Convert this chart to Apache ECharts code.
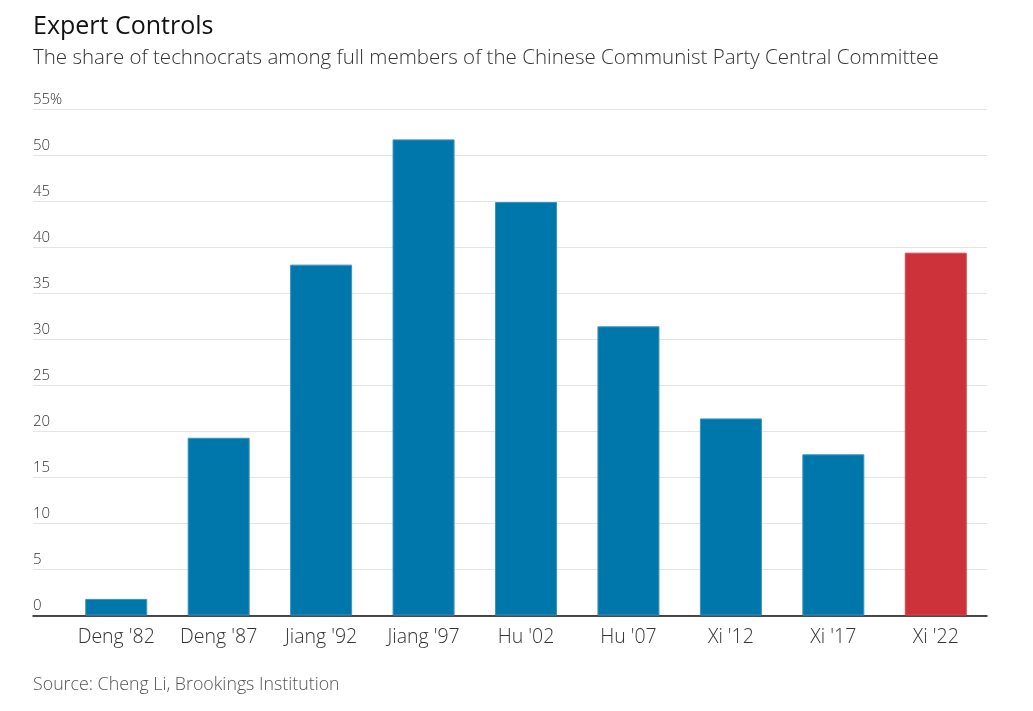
<!DOCTYPE html>
<html>
<head>
<meta charset="utf-8">
<script src="https://cdn.jsdelivr.net/npm/echarts@6/dist/echarts.min.js"></script>
<style>
html,body{margin:0;padding:0;background:#fff;}
#chart{width:1033px;height:711px;}
</style>
</head>
<body>
<div id="chart"></div>
<script>
var categories = ["Deng '82", "Deng '87", "Jiang '92", "Jiang '97", "Hu '02", "Hu '07", "Xi '12", "Xi '17", "Xi '22"];
var shares = [1.8, 19.3, 38.1, 51.7, 44.9, 31.4, 21.4, 17.5, 39.4];
var highlighted = ["Xi '22"];
var yMax = 55;
var yStep = 5;

var FONT = "Open Sans";
var BLUE = "#0077ab";
var RED = "#cd323b";

var chart = echarts.init(document.getElementById('chart'), null, {renderer: 'canvas'});

var barData = shares.map(function (v, i) {
  var hi = highlighted.indexOf(categories[i]) >= 0;
  return {
    value: v,
    itemStyle: {
      color: hi ? RED : BLUE,
      borderColor: hi ? "#d94a55" : "#3d92bf",
      borderWidth: 1
    }
  };
});

chart.setOption({
  animation: false,
  backgroundColor: '#fff',
  textStyle: {fontFamily: FONT},
  title: [
    {
      text: 'Expert Controls',
      left: 33, top: 14, padding: 0,
      textStyle: {fontFamily: FONT, fontSize: 25, fontWeight: 'normal', color: '#111'}
    },
    {
      text: 'The share of technocrats among full members of the Chinese Communist Party Central Committee',
      left: 33, top: 48, padding: 0,
      textStyle: {fontFamily: FONT, fontSize: 20.5, fontWeight: 300, color: '#333'}
    },
    {
      text: 'Source: Cheng Li, Brookings Institution',
      left: 33, top: 676, padding: 0,
      textStyle: {fontFamily: FONT, fontSize: 17.8, fontWeight: 300, color: '#555'}
    }
  ],
  grid: [
    {left: 33, right: 46, top: 109, bottom: 95.5, containLabel: false},
    {left: 65, right: 46, top: 109, bottom: 95.5, containLabel: false}
  ],
  xAxis: [
    {
      gridIndex: 0, type: 'category', data: [''],
      axisLine: {show: true, lineStyle: {color: '#111', width: 1.5}},
      axisTick: {show: false}, axisLabel: {show: false}, splitLine: {show: false}
    },
    {
      gridIndex: 1, type: 'category', data: categories,
      axisLine: {show: false}, axisTick: {show: false},
      axisLabel: {interval: 0, hideOverlap: false, fontFamily: FONT, fontSize: 19.5, fontWeight: 300, color: '#333', margin: 12}
    }
  ],
  yAxis: [
    {
      gridIndex: 0, type: 'value', min: 0, max: yMax, interval: yStep,
      axisLine: {show: false}, axisTick: {show: false},
      splitLine: {show: true, lineStyle: {color: '#e4e4e4', width: 1}},
      axisLabel: {
        inside: true, margin: 0, align: 'left', verticalAlign: 'bottom',
        padding: [0, 0, 2, 0],
        fontFamily: FONT, fontSize: 15, fontWeight: 300, color: '#333',
        formatter: function (v) { return v === yMax ? v + '%' : String(v); }
      }
    },
    {
      gridIndex: 1, type: 'value', min: 0, max: yMax, interval: yStep,
      show: false, splitLine: {show: false}
    }
  ],
  series: [
    {
      type: 'bar', xAxisIndex: 1, yAxisIndex: 1,
      data: barData, barWidth: 62, z: 3
    }
  ]
});
</script>
</body>
</html>
